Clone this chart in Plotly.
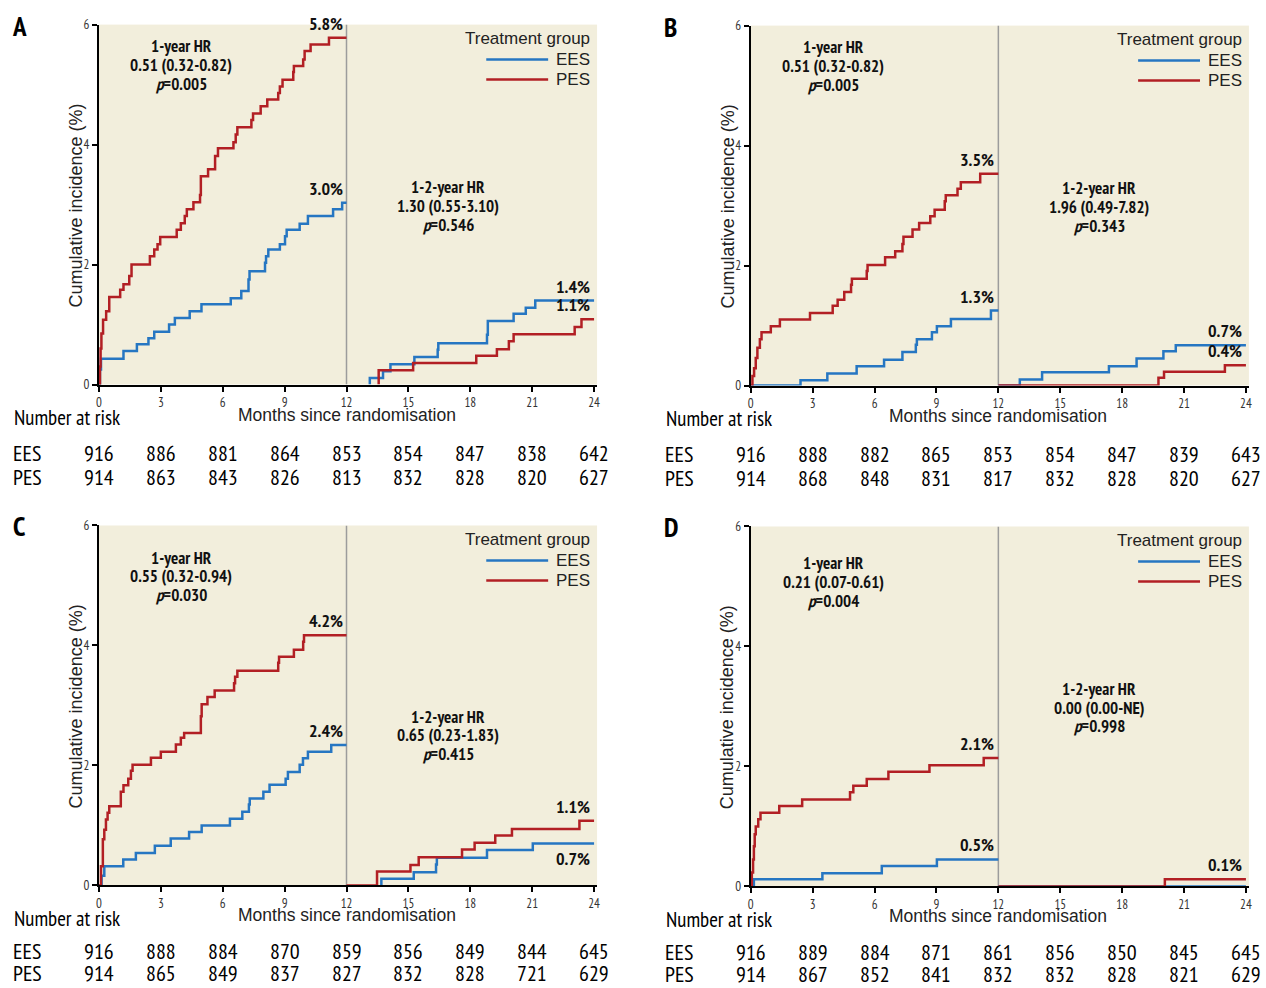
import plotly.graph_objects as go

# ---------------- data ----------------
months_ticks = [0, 3, 6, 9, 12, 15, 18, 21, 24]
y_ticks = [0, 2, 4, 6]
panel_letters = ["A", "B", "C", "D"]
group_names = ["EES", "PES"]

# Panel A
a_ees_t1 = [0, 0.05, 0.1, 1.19, 1.84, 2.4, 2.68, 3.4, 3.68, 4.4, 4.97, 6.39, 6.9, 7.25, 7.3, 8.05, 8.1, 8.21, 8.77, 9.02, 9.1, 9.73, 10.13, 11.35, 11.79, 12]
a_ees_v1 = [0, 0.25, 0.43, 0.56, 0.67, 0.77, 0.88, 1.0, 1.11, 1.22, 1.34, 1.44, 1.56, 1.75, 1.89, 2.03, 2.14, 2.25, 2.34, 2.47, 2.58, 2.68, 2.81, 2.92, 3.03, 3.03]
a_pes_t1 = [0, 0.05, 0.08, 0.12, 0.2, 0.35, 0.5, 1.03, 1.19, 1.47, 1.58, 2.47, 2.68, 2.84, 2.97, 3.77, 3.97, 4.16, 4.26, 4.58, 4.9, 4.94, 5.29, 5.63, 5.77, 6.52, 6.63, 6.71, 7.39, 7.47, 7.84, 8.16, 8.69, 8.77, 8.9, 9.42, 9.45, 9.9, 9.97, 10.26, 11.15, 12]
a_pes_v1 = [0, 0.3, 0.6, 0.85, 1.08, 1.22, 1.46, 1.58, 1.67, 1.81, 2.0, 2.14, 2.25, 2.34, 2.46, 2.58, 2.69, 2.81, 2.92, 3.04, 3.16, 3.47, 3.59, 3.81, 3.94, 4.04, 4.17, 4.29, 4.41, 4.52, 4.64, 4.75, 4.86, 4.97, 5.08, 5.21, 5.31, 5.42, 5.56, 5.67, 5.78, 5.78]
a_ees_t2 = [13.13, 13.13, 13.77, 14.13, 15.29, 16.42, 16.45, 18.81, 18.85, 20.1, 20.69, 21.15, 24]
a_ees_v2 = [0, 0.11, 0.22, 0.34, 0.46, 0.58, 0.69, 0.83, 1.06, 1.18, 1.28, 1.4, 1.4]
a_pes_t2 = [13.56, 13.56, 15.23, 18.29, 19.29, 19.87, 20.1, 23.06, 23.39, 24]
a_pes_v2 = [0, 0.24, 0.36, 0.48, 0.59, 0.72, 0.84, 0.96, 1.09, 1.09]

# Panel B
b_ees_t1 = [0, 2.41, 3.71, 5.13, 6.46, 7.35, 8.0, 8.05, 8.78, 9.02, 9.7, 11.64, 12]
b_ees_v1 = [0, 0.09, 0.2, 0.32, 0.43, 0.56, 0.68, 0.77, 0.89, 0.99, 1.11, 1.25, 1.25]
b_pes_t1 = [0, 0.08, 0.16, 0.24, 0.32, 0.44, 0.52, 0.97, 1.41, 2.87, 3.97, 4.21, 4.53, 4.86, 4.9, 5.62, 5.66, 6.51, 7.0, 7.35, 7.4, 7.84, 8.16, 8.7, 8.91, 9.4, 9.45, 10.02, 10.18, 11.12, 12]
b_pes_v1 = [0, 0.16, 0.29, 0.46, 0.63, 0.77, 0.89, 0.99, 1.1, 1.21, 1.33, 1.43, 1.56, 1.68, 1.78, 1.91, 2.01, 2.14, 2.24, 2.36, 2.48, 2.6, 2.71, 2.82, 2.93, 3.07, 3.17, 3.28, 3.39, 3.53, 3.53]
b_ees_t2 = [12, 13.04, 14.12, 17.36, 18.7, 20.0, 20.6, 24]
b_ees_v2 = [0, 0.1, 0.22, 0.32, 0.45, 0.57, 0.67, 0.67]
b_pes_t2 = [12, 19.76, 20.03, 22.98, 24]
b_pes_v2 = [0, 0.13, 0.23, 0.34, 0.34]

# Panel C
c_ees_t1 = [0, 0.13, 0.26, 1.18, 1.79, 2.71, 3.48, 4.37, 4.98, 6.35, 6.95, 7.27, 7.31, 7.97, 8.27, 9.05, 9.16, 9.73, 9.89, 10.13, 11.26, 12]
c_ees_v1 = [0, 0.16, 0.32, 0.43, 0.54, 0.66, 0.78, 0.89, 1.0, 1.11, 1.23, 1.35, 1.45, 1.56, 1.68, 1.78, 1.89, 2.01, 2.12, 2.23, 2.34, 2.34]
c_pes_t1 = [0, 0.1, 0.19, 0.26, 0.34, 0.42, 0.5, 1.06, 1.19, 1.42, 1.55, 1.63, 2.52, 3.0, 3.73, 3.97, 4.13, 4.94, 4.98, 5.26, 5.61, 6.55, 6.6, 6.71, 8.69, 8.73, 9.45, 9.9, 9.94, 12]
c_pes_v1 = [0, 0.32, 0.77, 0.93, 1.1, 1.21, 1.32, 1.56, 1.67, 1.78, 1.91, 2.01, 2.13, 2.23, 2.35, 2.46, 2.54, 2.82, 3.02, 3.14, 3.25, 3.37, 3.48, 3.58, 3.71, 3.81, 3.93, 4.06, 4.17, 4.17]
c_ees_t2 = [13.69, 13.69, 15.26, 16.34, 16.38, 18.81, 21.03, 24]
c_ees_v2 = [0, 0.11, 0.22, 0.35, 0.46, 0.59, 0.7, 0.7]
c_pes_t2 = [12, 13.48, 15.1, 15.5, 17.6, 18.21, 19.21, 20.02, 23.29, 24]
c_pes_v2 = [0, 0.23, 0.34, 0.47, 0.6, 0.71, 0.83, 0.94, 1.08, 1.08]

# Panel D
d_ees_t1 = [0, 0.15, 3.47, 6.35, 9.02, 12]
d_ees_v1 = [0, 0.12, 0.22, 0.34, 0.45, 0.45]
d_pes_t1 = [0, 0.05, 0.11, 0.15, 0.19, 0.24, 0.36, 0.47, 1.38, 2.49, 4.81, 4.97, 5.62, 6.67, 8.66, 11.29, 12]
d_pes_v1 = [0, 0.23, 0.45, 0.67, 0.87, 1.0, 1.12, 1.23, 1.34, 1.45, 1.57, 1.68, 1.79, 1.91, 2.02, 2.14, 2.14]
d_ees_t2 = [12, 24]
d_ees_v2 = [0, 0]
d_pes_t2 = [12, 20.07, 24]
d_pes_v2 = [0, 0.12, 0.12]

# end-of-period labels: (series key, text, placement)
a_labels = [("pes1", "5.8%", "above"), ("ees1", "3.0%", "above"), ("ees2", "1.4%", "above"), ("pes2", "1.1%", "above")]
b_labels = [("pes1", "3.5%", "above"), ("ees1", "1.3%", "above"), ("ees2", "0.7%", "above"), ("pes2", "0.4%", "above")]
c_labels = [("pes1", "4.2%", "above"), ("ees1", "2.4%", "above"), ("pes2", "1.1%", "above"), ("ees2", "0.7%", "below")]
d_labels = [("pes1", "2.1%", "above"), ("ees1", "0.5%", "above"), ("pes2", "0.1%", "above")]

# hazard ratio texts
a_hr1 = ["1-year HR", "0.51 (0.32-0.82)", "<i>p</i>=0.005"]
a_hr2 = ["1-2-year HR", "1.30 (0.55-3.10)", "<i>p</i>=0.546"]
b_hr1 = ["1-year HR", "0.51 (0.32-0.82)", "<i>p</i>=0.005"]
b_hr2 = ["1-2-year HR", "1.96 (0.49-7.82)", "<i>p</i>=0.343"]
c_hr1 = ["1-year HR", "0.55 (0.32-0.94)", "<i>p</i>=0.030"]
c_hr2 = ["1-2-year HR", "0.65 (0.23-1.83)", "<i>p</i>=0.415"]
d_hr1 = ["1-year HR", "0.21 (0.07-0.61)", "<i>p</i>=0.004"]
d_hr2 = ["1-2-year HR", "0.00 (0.00-NE)", "<i>p</i>=0.998"]
hr1_pos = [(4.0, 5.33), (4.0, 5.33), (4.0, 5.15), (4.0, 5.08)]
hr2_pos = [(16.9, 2.98), (16.9, 2.98), (16.9, 2.5), (16.9, 2.98)]

# numbers at risk
a_risk_ees = [916, 886, 881, 864, 853, 854, 847, 838, 642]
a_risk_pes = [914, 863, 843, 826, 813, 832, 828, 820, 627]
b_risk_ees = [916, 888, 882, 865, 853, 854, 847, 839, 643]
b_risk_pes = [914, 868, 848, 831, 817, 832, 828, 820, 627]
c_risk_ees = [916, 888, 884, 870, 859, 856, 849, 844, 645]
c_risk_pes = [914, 865, 849, 837, 827, 832, 828, 721, 629]
d_risk_ees = [916, 889, 884, 871, 861, 856, 850, 845, 645]
d_risk_pes = [914, 867, 852, 841, 832, 832, 828, 821, 629]

# ---------------- styling ----------------
W, H = 1266, 988
BLUE = "#2676C2"
RED = "#B21F24"
BG = "#F2EEDC"
NARROW = "PT Sans Narrow, Roboto Condensed, DejaVu Sans Condensed, sans-serif"
REG = "Liberation Sans, Arial, sans-serif"
# plot origin (x=0, y=6) in target pixels for each panel
origins = [(98, 25), (751, 26), (98, 526), (751, 527)]
# vertical offsets of the two number-at-risk rows below each panel's top
risk_rows = [(428, 452), (428, 452), (426, 448), (426, 448)]
PW, PH = 499, 360
XMAX = 24 * PW / 496.0
# the photographed page comes out slightly shrunk about its centre; pre-compensate
SX, SY = 0.997, 0.983
CX, CY = 633.0, 494.0


def px(x):
    return (CX + (x - CX) / SX) / W


def py(y):
    return 1 - (CY + (y - CY) / SY) / H


panels = [
    dict(ees1=(a_ees_t1, a_ees_v1), pes1=(a_pes_t1, a_pes_v1), ees2=(a_ees_t2, a_ees_v2), pes2=(a_pes_t2, a_pes_v2),
         labels=a_labels, hr1=a_hr1, hr2=a_hr2, risk=(a_risk_ees, a_risk_pes)),
    dict(ees1=(b_ees_t1, b_ees_v1), pes1=(b_pes_t1, b_pes_v1), ees2=(b_ees_t2, b_ees_v2), pes2=(b_pes_t2, b_pes_v2),
         labels=b_labels, hr1=b_hr1, hr2=b_hr2, risk=(b_risk_ees, b_risk_pes)),
    dict(ees1=(c_ees_t1, c_ees_v1), pes1=(c_pes_t1, c_pes_v1), ees2=(c_ees_t2, c_ees_v2), pes2=(c_pes_t2, c_pes_v2),
         labels=c_labels, hr1=c_hr1, hr2=c_hr2, risk=(c_risk_ees, c_risk_pes)),
    dict(ees1=(d_ees_t1, d_ees_v1), pes1=(d_pes_t1, d_pes_v1), ees2=(d_ees_t2, d_ees_v2), pes2=(d_pes_t2, d_pes_v2),
         labels=d_labels, hr1=d_hr1, hr2=d_hr2, risk=(d_risk_ees, d_risk_pes)),
]

fig = go.Figure()
layout = dict(width=W, height=H, margin=dict(l=0, r=0, t=0, b=0, pad=0), autosize=False,
              paper_bgcolor="white", plot_bgcolor=BG, showlegend=False)
annotations = []
shapes = []

for i, p in enumerate(panels):
    n = i + 1
    xa = "x" if n == 1 else f"x{n}"
    ya = "y" if n == 1 else f"y{n}"
    xkey = "xaxis" if n == 1 else f"xaxis{n}"
    ykey = "yaxis" if n == 1 else f"yaxis{n}"
    L, T = origins[i]
    layout[xkey] = dict(domain=[px(L), px(L + PW)], anchor=ya, range=[0, XMAX],
                        tickvals=months_ticks, ticks="outside", ticklen=5, tickwidth=1.5, tickcolor="black",
                        showline=True, linecolor="black", linewidth=2, showgrid=False, zeroline=False,
                        tickfont=dict(family=NARROW, size=13, color="#333"), fixedrange=True)
    layout[ykey] = dict(domain=[py(T + PH), py(T)], anchor=xa, range=[0, 6],
                        tickvals=y_ticks, ticks="outside", ticklen=5, tickwidth=1.5, tickcolor="black",
                        showline=True, linecolor="black", linewidth=2, showgrid=False, zeroline=False,
                        tickfont=dict(family=NARROW, size=13, color="#333"), fixedrange=True)

    # curves: blue first, red on top
    for key, color in [("ees1", BLUE), ("ees2", BLUE), ("pes1", RED), ("pes2", RED)]:
        t, v = p[key]
        fig.add_trace(go.Scatter(x=t, y=v, mode="lines", line=dict(color=color, width=2.5, shape="hv"),
                                 xaxis=xa, yaxis=ya, hoverinfo="skip"))

    # landmark line at 12 months
    shapes.append(dict(type="line", xref=xa, yref=ya, x0=12, x1=12, y0=0, y1=6,
                       line=dict(color="#9c9c9c", width=1.5), layer="below"))

    # end labels
    for key, txt, place in p["labels"]:
        t, v = p[key]
        annotations.append(dict(xref=xa, yref=ya, x=t[-1], y=v[-1], text=f"<b>{txt}</b>", showarrow=False,
                                xanchor="right", yanchor="bottom" if place == "above" else "top",
                                xshift=-2, yshift=1 if place == "above" else -2,
                                font=dict(family=NARROW, size=18, color="#111")))

    # HR blocks
    for lines, (hx, hy) in [(p["hr1"], hr1_pos[i]), (p["hr2"], hr2_pos[i])]:
        for k, line in enumerate(lines):
            annotations.append(dict(xref=xa, yref=ya, x=hx, y=hy, text=f"<b>{line}</b>", showarrow=False,
                                    xanchor="center", yanchor="middle", yshift=18.5 / SY * (1 - k),
                                    font=dict(family=NARROW, size=17, color="#111")))

    # legend
    annotations.append(dict(xref="paper", yref="paper", x=px(L + 494), y=py(T + 14), text="Treatment group",
                            showarrow=False, xanchor="right", yanchor="middle",
                            font=dict(family=REG, size=17, color="#222")))
    for k, (g, color) in enumerate(zip(group_names, [BLUE, RED])):
        yy = T + 35 + 20 * k
        shapes.append(dict(type="line", xref="paper", yref="paper", x0=px(L + 388), x1=px(L + 450),
                           y0=py(yy), y1=py(yy), line=dict(color=color, width=2.5)))
        annotations.append(dict(xref="paper", yref="paper", x=px(L + 494), y=py(yy), text=g,
                                showarrow=False, xanchor="right", yanchor="middle",
                                font=dict(family=REG, size=17, color="#222")))

    # axis titles
    annotations.append(dict(xref=xa, yref="paper", x=12, y=py(T + 390), text="Months since randomisation",
                            showarrow=False, xanchor="center", yanchor="middle",
                            font=dict(family=REG, size=17.5, color="#222")))
    annotations.append(dict(xref="paper", yref="paper", x=px(L - 23), y=py(T + 181),
                            text="Cumulative incidence (%)", textangle=-90, showarrow=False,
                            xanchor="center", yanchor="middle", font=dict(family=REG, size=18, color="#222")))
    # panel letter
    annotations.append(dict(xref="paper", yref="paper", x=px(L - 80), y=py(T + 1), text=f"<b>{panel_letters[i]}</b>",
                            showarrow=False, xanchor="center", yanchor="middle",
                            font=dict(family=NARROW, size=27, color="black")))
    # number at risk
    annotations.append(dict(xref="paper", yref="paper", x=px(L - 87), y=py(T + 393), text="Number at risk",
                            showarrow=False, xanchor="left", yanchor="middle",
                            font=dict(family=NARROW, size=21, color="black")))
    for k, (g, row) in enumerate(zip(group_names, p["risk"])):
        yy = T + risk_rows[i][k]
        annotations.append(dict(xref="paper", yref="paper", x=px(L - 87), y=py(yy), text=g,
                                showarrow=False, xanchor="left", yanchor="middle", borderpad=0,
                                font=dict(family=NARROW, size=22, color="black")))
        for m, val in zip(months_ticks, row):
            annotations.append(dict(xref=xa, yref="paper", x=m, y=py(yy), text=str(val),
                                    showarrow=False, xanchor="center", yanchor="middle", borderpad=0,
                                    font=dict(family=NARROW, size=22, color="black")))

layout["annotations"] = annotations
layout["shapes"] = shapes
fig.update_layout(**layout)

page_fix = (
    "document.documentElement.style.margin='0px';"
    "document.documentElement.style.padding='0px';"
    "document.documentElement.style.overflow='hidden';"
    "document.body.style.margin='0px';"
    "document.body.style.padding='0px';"
    "document.body.style.overflow='hidden';"
    "var gd=document.getElementById('{plot_id}');"
    "gd.style.position='absolute';gd.style.left='0px';gd.style.top='0px';"
)
fig.write_html("out.html", config={"displayModeBar": False, "responsive": False}, post_script=page_fix)
